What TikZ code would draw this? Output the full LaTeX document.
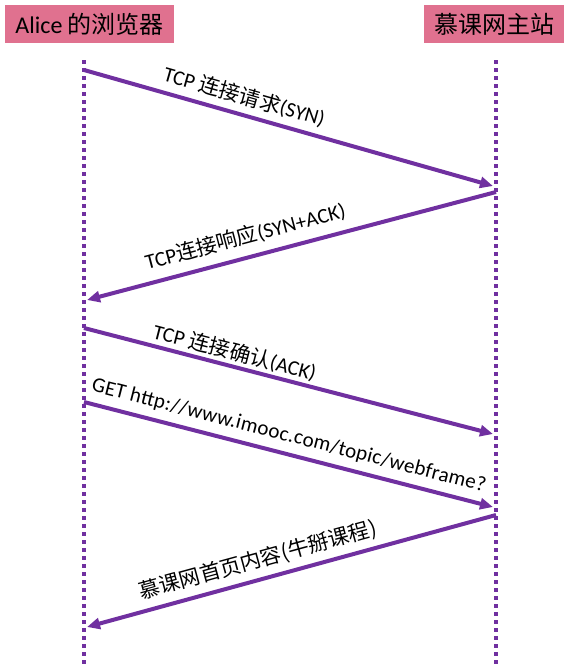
\documentclass[tikz,border=0pt]{standalone}
\usepackage{fontspec}
\setmainfont{Carlito}
\newfontfamily\cjk{Noto Sans CJK SC}
\usetikzlibrary{arrows.meta}
\definecolor{msgpurple}{HTML}{7030A0}
\definecolor{headpink}{HTML}{E0718F}

\begin{document}
\begin{tikzpicture}[x=1pt,y=-1pt,
  head/.style={fill=headpink, minimum height=38pt, inner xsep=6pt, anchor=north west, font=\fontsize{24}{26}\selectfont},
  life/.style={msgpurple, line width=3.5pt, dash pattern=on 3.5pt off 4.5pt},
  msg/.style={msgpurple, line width=4pt, -{Triangle[length=13pt,width=11pt]}},
  lbl/.style={sloped, text=black, inner sep=1pt, font=\fontsize{21}{23}\selectfont}]
\useasboundingbox (0,0) rectangle (568,667);
\node[head, minimum width=169pt] (alice) at (5,5) {Alice {\cjk 的浏览器}};
\node[head, minimum width=140pt] (imooc) at (424,5) {{\cjk 慕课网主站}};
% lifelines
\coordinate (atop) at (84,60);
\coordinate (abot) at (84,667);
\coordinate (mtop) at (496,60);
\coordinate (mbot) at (496,667);
\path[draw,life] (atop) -- (abot);
\path[draw,life] (mtop) -- (mbot);
% message ends
\coordinate (a1) at (84,70);
\coordinate (m1) at (493,186);
\coordinate (m2) at (496,192);
\coordinate (a2) at (87,300);
\coordinate (a3) at (84,328);
\coordinate (m3) at (493,434);
\coordinate (a4) at (84,402);
\coordinate (m4) at (493,507);
\coordinate (m5) at (496,515);
\coordinate (a5) at (87,627);
% messages
\path[draw,msg] (a1) -- node[lbl, above=5pt, pos=0.38] {TCP {\cjk 连接请求}(SYN)} (m1);
\path[draw,msg] (m2) -- node[lbl, above=8pt, pos=0.6] {TCP{\cjk 连接响应}(SYN+ACK)} (a2);
\path[draw,msg] (a3) -- node[lbl, above=1pt, pos=0.36] {TCP {\cjk 连接确认}(ACK)} (m3);
\path[draw,msg] (a4) -- node[lbl, above=6pt, pos=0.49] {\addfontfeature{LetterSpace=1.5}GET http://www.imooc.com/topic/webframe?} (m4);
\path[draw,msg] (m5) -- node[lbl, above=5pt, pos=0.57] {{\cjk 慕课网首页内容(牛掰课程)}} (a5);
\end{tikzpicture}
\end{document}
